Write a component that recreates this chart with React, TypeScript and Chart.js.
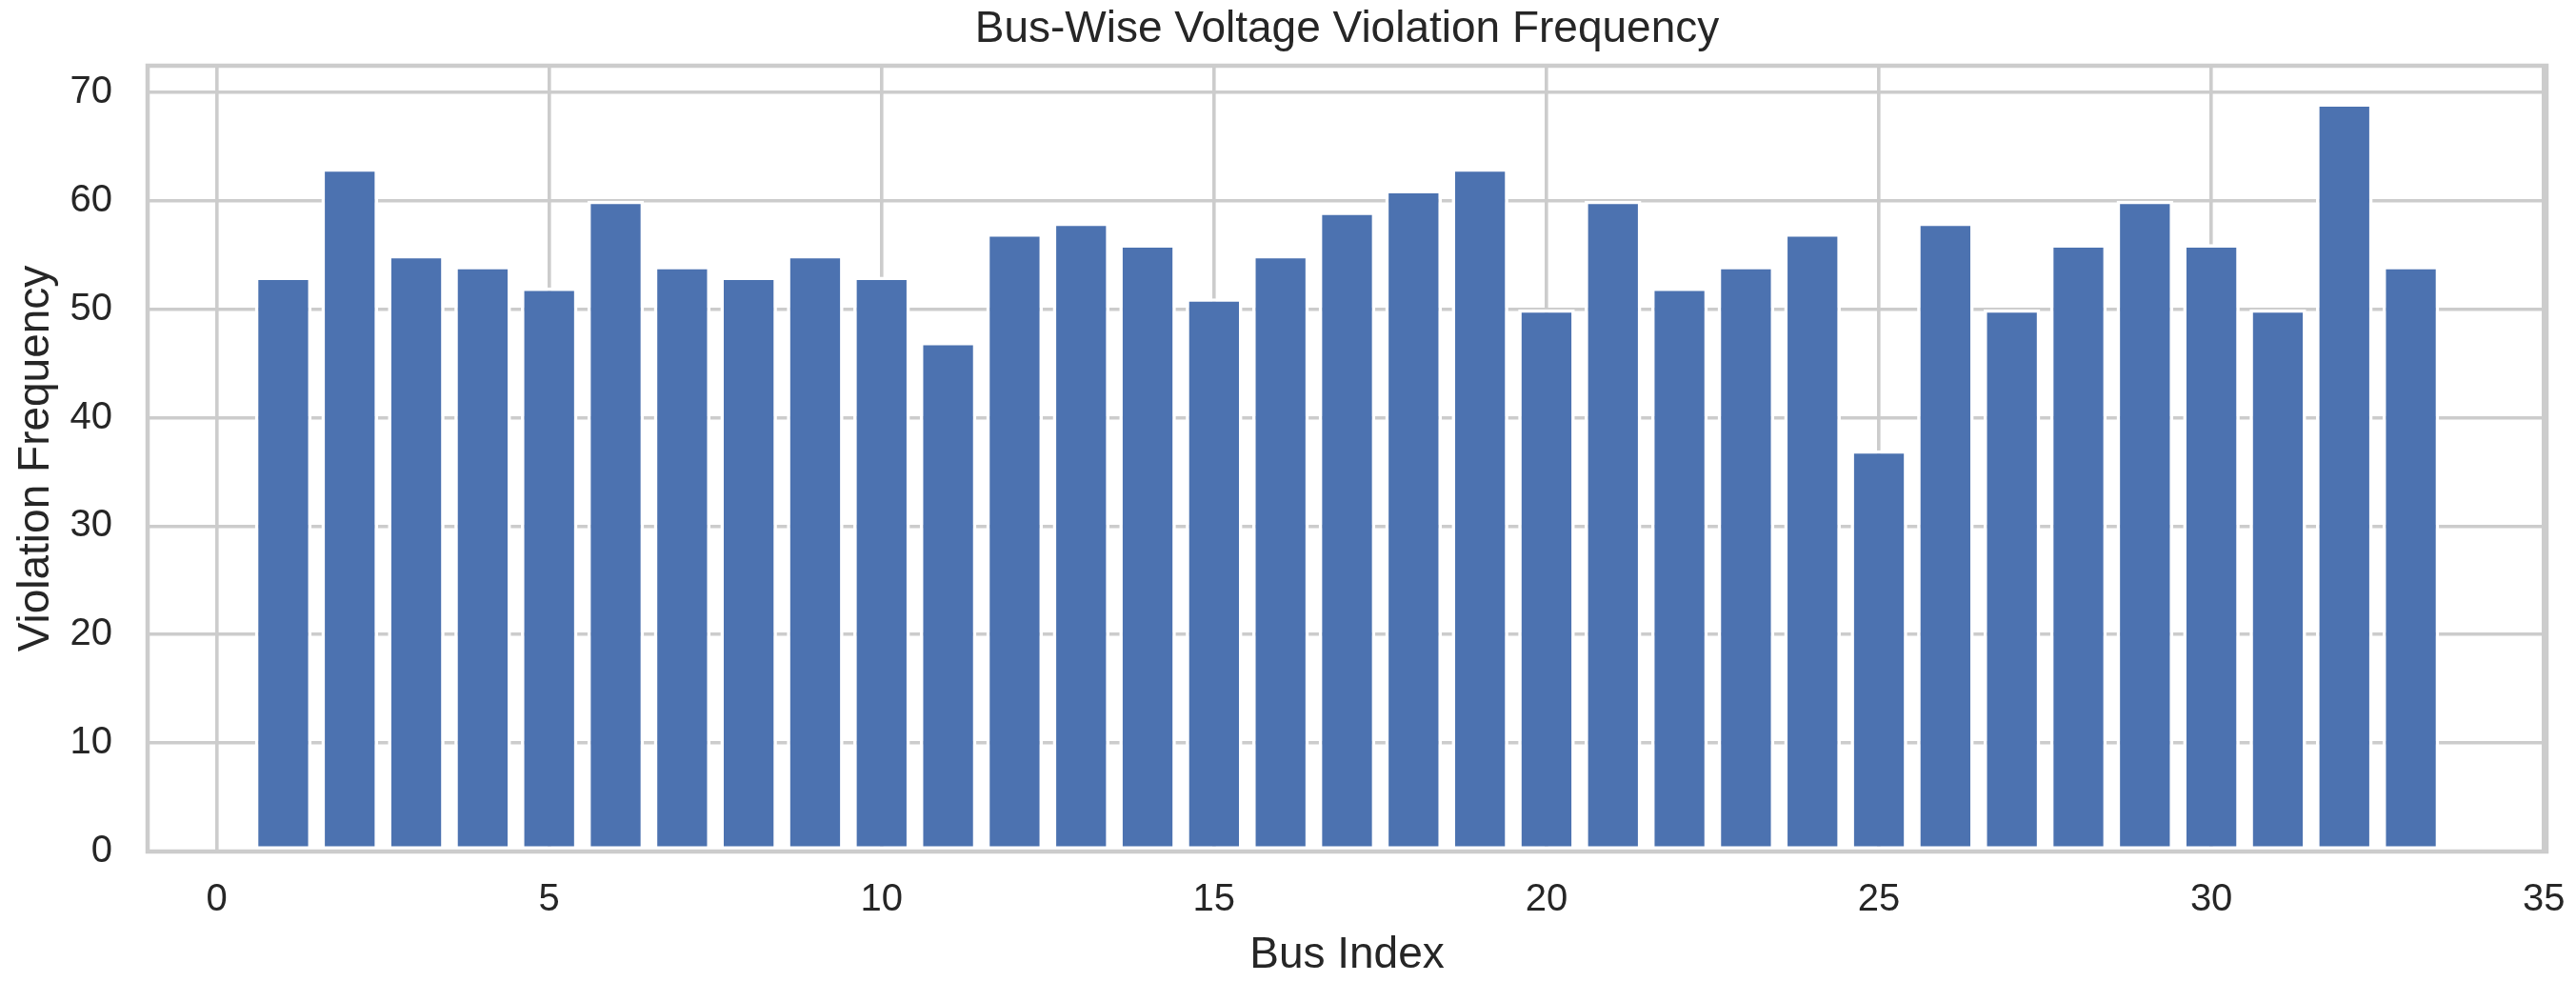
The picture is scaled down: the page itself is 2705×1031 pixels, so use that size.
import React, { useEffect, useRef } from 'react';
import { Chart, registerables } from 'chart.js';

Chart.register(...registerables);

// ---- Data ----
const busIndex: number[] = [
  1, 2, 3, 4, 5, 6, 7, 8, 9, 10, 11, 12, 13, 14, 15, 16, 17, 18, 19, 20,
  21, 22, 23, 24, 25, 26, 27, 28, 29, 30, 31, 32, 33,
];
const violationFrequency: number[] = [
  53, 63, 55, 54, 52, 60, 54, 53, 55, 53, 47, 57, 58, 56, 51, 55, 59, 61, 63, 50,
  60, 52, 54, 57, 37, 58, 50, 56, 60, 56, 50, 69, 54,
];
const xTickStep = 5;
const yTickStep = 10;
const xRange: number[] = [-1.04, 35.04];
const yRange: number[] = [0, 72.45];

const titleText = 'Bus-Wise Voltage Violation Frequency';
const xLabel = 'Bus Index';
const yLabel = 'Violation Frequency';

// ---- Style ----
const W = 2705;
const H = 1031;
const FONT = "'Liberation Sans', Arial, sans-serif";
const TEXT = '#262626';
const GRID = '#cccccc';
const BAR = '#4c72b0';

const framePlugin = {
  id: 'frame',
  afterDatasetsDraw(chart: any) {
    const { ctx, chartArea } = chart;
    const { left, top, right, bottom } = chartArea;
    ctx.save();
    ctx.strokeStyle = GRID;
    ctx.lineWidth = 4.5;
    ctx.strokeRect(left, top, right - left, bottom - top);
    ctx.restore();
  },
};

export default function App() {
  const ref = useRef<HTMLCanvasElement | null>(null);

  useEffect(() => {
    if (!ref.current) return;
    const points = busIndex.map((b, i) => ({ x: b, y: violationFrequency[i] }));
    const chart = new Chart(ref.current, {
      type: 'bar',
      data: {
        datasets: [
          {
            data: points as any,
            backgroundColor: BAR,
            borderColor: '#ffffff',
            borderWidth: 3.6,
            borderSkipped: false,
            barPercentage: 0.852,
            categoryPercentage: 1,
            inflateAmount: 0,
          } as any,
        ],
      },
      options: {
        responsive: false,
        animation: false,
        devicePixelRatio: 1,
        layout: { padding: { left: 0, right: 31, top: 0, bottom: 0 } },
        plugins: {
          legend: { display: false },
          tooltip: { enabled: false },
          title: {
            display: true,
            fullSize: false,
            text: titleText,
            color: TEXT,
            font: { family: FONT, size: 46, weight: 'normal' },
            padding: { top: 3.4, bottom: 10.4 },
          },
        },
        scales: {
          x: {
            type: 'linear',
            offset: false,
            min: xRange[0],
            max: xRange[1],
            ticks: {
              stepSize: xTickStep,
              includeBounds: false,
              color: TEXT,
              font: { family: FONT, size: 40 },
              padding: 27,
              maxRotation: 0,
            },
            grid: { color: GRID, lineWidth: 3.6, drawTicks: false, offset: false },
            border: { display: false },
            title: {
              display: true,
              text: xLabel,
              color: TEXT,
              font: { family: FONT, size: 46 },
              padding: { top: 0, bottom: 0 },
            },
            afterFit(scale: any) {
              scale.height = H - 894;
              scale.paddingLeft = 0;
              scale.paddingRight = 0;
            },
          },
          y: {
            type: 'linear',
            min: yRange[0],
            max: yRange[1],
            ticks: {
              stepSize: yTickStep,
              includeBounds: false,
              color: TEXT,
              font: { family: FONT, size: 40 },
              padding: 37,
            },
            grid: { color: GRID, lineWidth: 3.6, drawTicks: false },
            border: { display: false },
            title: {
              display: true,
              text: yLabel,
              color: TEXT,
              font: { family: FONT, size: 46 },
              padding: { top: 10.4, bottom: 0 },
            },
            afterFit(scale: any) {
              scale.width = 155;
              scale.paddingTop = 0;
              scale.paddingBottom = 0;
            },
          },
        },
      } as any,
      plugins: [framePlugin],
    });
    return () => chart.destroy();
  }, []);

  return (
    <div style={{ position: 'fixed', left: 0, top: 0, width: W, height: H, background: '#ffffff' }}>
      <canvas ref={ref} width={W} height={H} style={{ width: W, height: H, display: 'block' }} />
    </div>
  );
}
